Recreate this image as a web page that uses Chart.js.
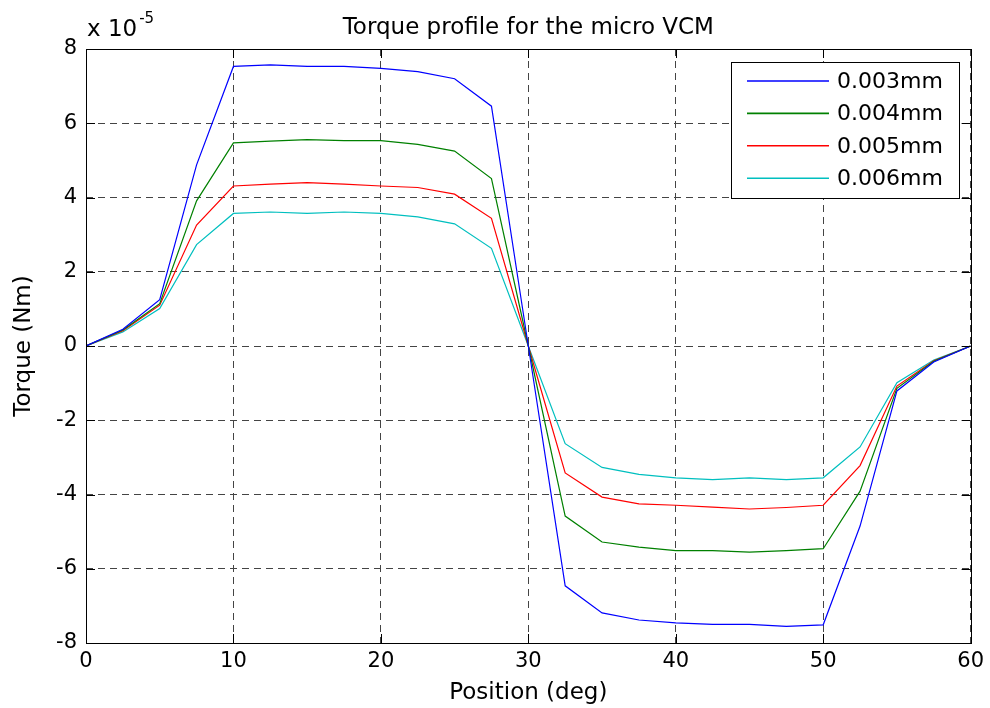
<!DOCTYPE html>
<html>
<head>
<meta charset="utf-8">
<script src="https://cdn.jsdelivr.net/npm/chart.js@4.4.1/dist/chart.umd.min.js"></script>
<style>
html,body{margin:0;padding:0;background:#fff;}
#wrap{width:990px;height:708px;position:relative;}
</style>
</head>
<body>
<div id="wrap"><canvas id="c" width="990" height="708"></canvas></div>
<script>
// Data (torque in units of 1e-5 Nm)
const positions = [0,2.5,5,7.5,10,12.5,15,17.5,20,22.5,25,27.5,30,32.5,35,37.5,40,42.5,45,47.5,50,52.5,55,57.5,60];
const seriesLabels = ['0.003mm','0.004mm','0.005mm','0.006mm'];
const torque003 = [0,0.45,1.25,4.88,7.53,7.57,7.53,7.53,7.48,7.39,7.20,6.46,0,-6.46,-7.19,-7.38,-7.46,-7.50,-7.50,-7.55,-7.51,-4.85,-1.21,-0.43,0];
const torque004 = [0,0.43,1.14,3.91,5.47,5.52,5.56,5.53,5.53,5.43,5.25,4.51,0,-4.58,-5.28,-5.42,-5.51,-5.51,-5.55,-5.51,-5.46,-3.91,-1.14,-0.41,0];
const torque005 = [0,0.41,1.10,3.26,4.31,4.36,4.40,4.36,4.31,4.27,4.09,3.44,0,-3.42,-4.07,-4.25,-4.29,-4.34,-4.39,-4.35,-4.29,-3.22,-1.08,-0.40,0];
const torque006 = [0,0.38,1.01,2.73,3.57,3.61,3.57,3.61,3.57,3.48,3.29,2.63,0,-2.63,-3.27,-3.46,-3.55,-3.60,-3.55,-3.60,-3.55,-2.72,-0.99,-0.38,0];
const xTicks = [0,10,20,30,40,50,60];
const yTicks = [-8,-6,-4,-2,0,2,4,6,8];
const titleText = 'Torque profile for the micro VCM';
const xTitle = 'Position (deg)';
const yTitle = 'Torque (Nm)';
const colors = ['#0000ff','#008000','#ff0000','#00bfbf'];

const allSeries = [torque003, torque004, torque005, torque006];
const datasets = allSeries.map((s, i) => ({
  label: seriesLabels[i],
  data: positions.map((p, j) => ({x: p, y: s[j]})),
  borderColor: colors[i],
  backgroundColor: colors[i],
  borderWidth: 1.2,
  pointRadius: 0,
  tension: 0,
  fill: false
}));

const FONT = '"DejaVu Sans", sans-serif';

const decor = {
  id: 'decor',
  afterDraw(chart) {
    const ctx = chart.ctx;
    const a = chart.chartArea;
    const xs = chart.scales.x, ys = chart.scales.y;
    ctx.save();
    // frame
    ctx.strokeStyle = '#000';
    ctx.lineWidth = 1;
    ctx.setLineDash([]);
    ctx.strokeRect(Math.round(a.left)+0.5, Math.round(a.top)+0.5, Math.round(a.right-a.left), Math.round(a.bottom-a.top));
    // tick marks inward on all four sides
    const tl = 9;
    ctx.beginPath();
    xTicks.forEach(v => {
      const px = Math.round(xs.getPixelForValue(v)) + 0.5;
      ctx.moveTo(px, a.bottom); ctx.lineTo(px, a.bottom - tl);
      ctx.moveTo(px, a.top); ctx.lineTo(px, a.top + tl);
    });
    yTicks.forEach(v => {
      const py = Math.round(ys.getPixelForValue(v)) + 0.5;
      ctx.moveTo(a.left, py); ctx.lineTo(a.left + tl, py);
      ctx.moveTo(a.right, py); ctx.lineTo(a.right - tl, py);
    });
    ctx.stroke();
    // title
    ctx.fillStyle = '#000';
    ctx.font = '23px ' + FONT;
    ctx.textAlign = 'center';
    ctx.textBaseline = 'alphabetic';
    ctx.fillText(titleText, (a.left + a.right) / 2, 34);
    // x title
    ctx.fillText(xTitle, (a.left + a.right) / 2, 699);
    // y title
    ctx.save();
    ctx.translate(30, (a.top + a.bottom) / 2);
    ctx.rotate(-Math.PI / 2);
    ctx.fillText(yTitle, 0, 0);
    ctx.restore();
    // exponent
    ctx.textAlign = 'left';
    ctx.font = '23px ' + FONT;
    ctx.fillText('x 10', 87, 36);
    const w = ctx.measureText('x 10').width;
    ctx.font = '15px ' + FONT;
    ctx.fillText('-5', 87 + w + 2, 23);
    // legend
    const lx = 731, ly = 62, lw = 228, lh = 136;
    ctx.fillStyle = '#fff';
    ctx.fillRect(lx, ly, lw, lh);
    ctx.strokeStyle = '#000';
    ctx.lineWidth = 1;
    ctx.strokeRect(lx + 0.5, ly + 0.5, lw, lh);
    ctx.font = '22px ' + FONT;
    ctx.textBaseline = 'middle';
    chart.data.datasets.forEach((ds, i) => {
      const cy = 81 + i * 32.4;
      ctx.strokeStyle = ds.borderColor;
      ctx.lineWidth = 1.6;
      ctx.beginPath();
      ctx.moveTo(747, cy);
      ctx.lineTo(829, cy);
      ctx.stroke();
      ctx.fillStyle = '#000';
      ctx.fillText(ds.label, 837, cy + 1);
    });
    ctx.restore();
  }
};

new Chart(document.getElementById('c'), {
  type: 'line',
  data: { datasets },
  plugins: [decor],
  options: {
    responsive: false,
    animation: false,
    events: [],
    layout: { autoPadding: false, padding: { top: 49, right: 18, left: 0, bottom: 0 } },
    plugins: { legend: { display: false }, title: { display: false }, tooltip: { enabled: false } },
    scales: {
      x: {
        type: 'linear', min: 0, max: 60,
        afterFit(s) { s.height = 65; },
        afterBuildTicks(s) { s.ticks = xTicks.map(v => ({ value: v })); },
        ticks: { color: '#000', font: { family: FONT, size: 21 }, padding: 6, maxRotation: 0 },
        grid: { color: '#444', lineWidth: 1, drawTicks: false },
        border: { display: false, dash: [7, 5] }
      },
      y: {
        type: 'linear', min: -8, max: 8,
        afterFit(s) { s.width = 86; },
        afterBuildTicks(s) { s.ticks = yTicks.map(v => ({ value: v })); },
        ticks: { color: '#000', font: { family: FONT, size: 21 }, padding: 9 },
        grid: { color: '#444', lineWidth: 1, drawTicks: false },
        border: { display: false, dash: [7, 5] }
      }
    }
  }
});
</script>
</body>
</html>
